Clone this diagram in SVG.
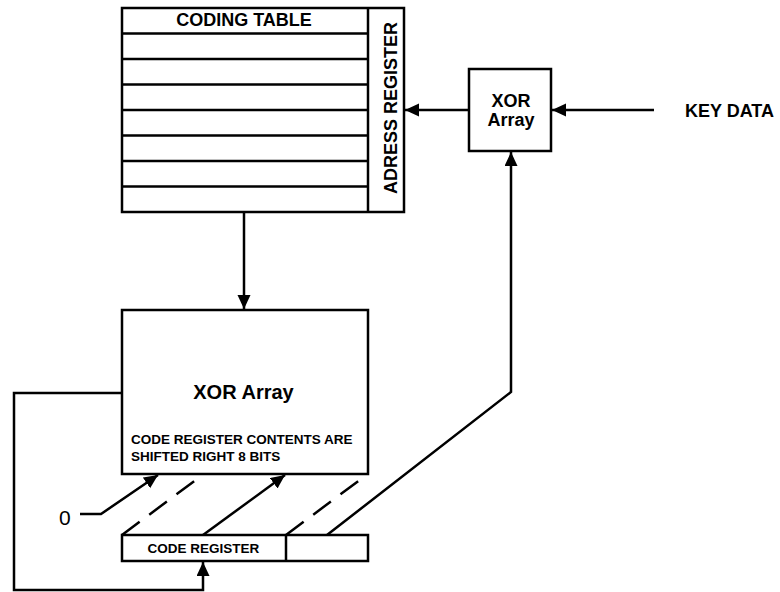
<svg xmlns="http://www.w3.org/2000/svg" width="780" height="592" viewBox="0 0 780 592">
<style>
.box{fill:#fff;stroke:#000;stroke-width:2.5}
.ln{fill:none;stroke:#000;stroke-width:2.5}
.dash{fill:none;stroke:#000;stroke-width:2.5;stroke-dasharray:22 12}
.t{font-family:"Liberation Sans",Arial,sans-serif;font-weight:bold;fill:#000}
.big{font-size:18px}
.sm{font-size:13.5px}
</style>
<defs>
<marker id="ah" markerUnits="userSpaceOnUse" markerWidth="16" markerHeight="14" refX="14" refY="6.5" orient="auto">
<path d="M0,0 L14,6.5 L0,13 Z" fill="#000"/>
</marker>
</defs>
<rect width="780" height="592" fill="#fff"/>
<g id="coding-table">
<rect class="box" x="122" y="8" width="282" height="204"/>
<line class="ln" x1="368" y1="8" x2="368" y2="212"/>
<path class="ln" d="M122,33.5H368M122,59H368M122,84.5H368M122,110H368M122,135.5H368M122,161H368M122,186.5H368"/>
<text class="t big" x="244" y="26" text-anchor="middle">CODING TABLE</text>
<text class="t big" transform="translate(397,108) rotate(-90)" text-anchor="middle">ADRESS REGISTER</text>
</g>
<g id="xor-small">
<rect class="box" x="469" y="69" width="82" height="82"/>
<text class="t big" x="511" y="106.5" text-anchor="middle">XOR</text>
<text class="t big" x="511" y="126" text-anchor="middle">Array</text>
</g>
<g id="key-data">
<text class="t big" x="685" y="116.5">KEY DATA</text>
</g>
<g id="xor-main">
<rect class="box" x="122" y="310" width="246" height="164"/>
<text class="t" font-size="20" x="243.5" y="399" text-anchor="middle">XOR Array</text>
<text class="t sm" x="131" y="444">CODE REGISTER CONTENTS ARE</text>
<text class="t sm" x="131" y="461">SHIFTED RIGHT 8 BITS</text>
</g>
<g id="code-register">
<rect class="box" x="122" y="535" width="246" height="26"/>
<line class="ln" x1="286" y1="535" x2="286" y2="561"/>
<text class="t sm" x="203.5" y="552.5" text-anchor="middle">CODE REGISTER</text>
</g>
<g id="zero">
<text x="59" y="525" font-family="'Liberation Sans',Arial,sans-serif" font-size="21" fill="#000">0</text>
</g>
<g id="connectors">
<line class="ln" x1="654" y1="110" x2="552" y2="110" marker-end="url(#ah)"/>
<line class="ln" x1="469" y1="110" x2="405" y2="110" marker-end="url(#ah)"/>
<line class="ln" x1="244" y1="213" x2="244" y2="309" marker-end="url(#ah)"/>
<polyline class="ln" points="327,535 511,392 511,152" marker-end="url(#ah)"/>
<polyline class="ln" points="122,393 14,393 14,590 203,590 203,562" marker-end="url(#ah)"/>
<polyline class="ln" points="80,514 101,514 158,475" marker-end="url(#ah)"/>
<line class="ln" x1="203" y1="535" x2="285" y2="475" marker-end="url(#ah)"/>
<line class="dash" x1="122" y1="535" x2="197" y2="479"/>
<line class="dash" x1="286" y1="535" x2="361" y2="479"/>
</g>
</svg>
